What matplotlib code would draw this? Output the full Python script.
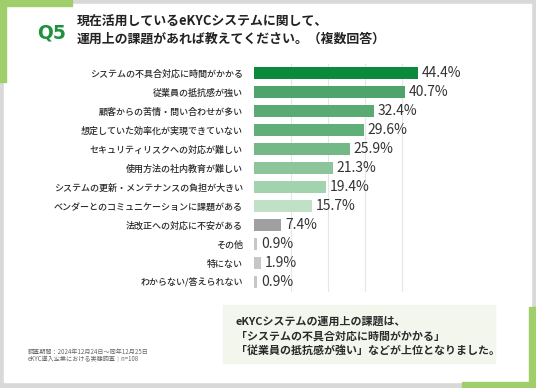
import matplotlib.pyplot as plt
from matplotlib.patches import Rectangle

plt.rcParams['font.family'] = ['Noto Sans CJK JP', 'DejaVu Sans']

# Data
categories = [
    "システムの不具合対応に時間がかかる",
    "従業員の抵抗感が強い",
    "顧客からの苦情・問い合わせが多い",
    "想定していた効率化が実現できていない",
    "セキュリティリスクへの対応が難しい",
    "使用方法の社内教育が難しい",
    "システムの更新・メンテナンスの負担が大きい",
    "ベンダーとのコミュニケーションに課題がある",
    "法改正への対応に不安がある",
    "その他",
    "特にない",
    "わからない/答えられない",
]
values = [44.4, 40.7, 32.4, 29.6, 25.9, 21.3, 19.4, 15.7, 7.4, 0.9, 1.9, 0.9]
bar_colors = ["#0b8a3c", "#4ea46a", "#5aab73", "#60ae78", "#74b887", "#8cc59a",
              "#a3d2ae", "#c0e1c6", "#a0a0a0", "#c6c6c6", "#c6c6c6", "#c6c6c6"]
grid_ticks = [10, 20, 30, 40, 50]

title_lines = ["現在活用しているeKYCシステムに関して、",
               "運用上の課題があれば教えてください。（複数回答）"]
summary_lines = ["eKYCシステムの運用上の課題は、",
                 "「システムの不具合対応に時間がかかる」",
                 "「従業員の抵抗感が強い」などが上位となりました。"]
note_lines = ["調査期間：2024年12月24日〜同年12月25日",
              "eKYC導入企業における実態調査｜n=108"]

W, H = 536, 388
fig = plt.figure(figsize=(W / 100, H / 100), dpi=100)
fig.patch.set_facecolor("#d9d9d9")

# background card and decoration (pixel coords)
bg = fig.add_axes([0, 0, 1, 1])
bg.set_xlim(0, W)
bg.set_ylim(H, 0)
bg.axis("off")
green = "#9fce6a"
bg.add_patch(Rectangle((4, 4), 527, 378, color="white"))
bg.add_patch(Rectangle((0, 0), 72, 6, color=green))
bg.add_patch(Rectangle((0, 0), 6, 82, color=green))
bg.add_patch(Rectangle((529, 307), 7, 81, color=green))
bg.add_patch(Rectangle((462, 382), 74, 6, color=green))
bg.add_patch(Rectangle((223, 305), 272, 58, color="#f3f6ec"))

bg.text(37, 33, "Q5", color="#1c9140", fontsize=13.5, fontweight="bold",
        va="center", ha="left", family=["DejaVu Sans"])
for i, line in enumerate(title_lines):
    bg.text(77, 22 + i * 17, line, fontsize=9.3, fontweight="bold",
            color="#222222", va="center", ha="left")
for i, line in enumerate(summary_lines):
    bg.text(236, 322 + i * 14, line, fontsize=7.9, fontweight="bold",
            color="#2a2a2a", va="center", ha="left")
for i, line in enumerate(note_lines):
    bg.text(28, 352 + i * 7.5, line, fontsize=4.4, color="#666666",
            va="center", ha="left")

# bar chart
ax = fig.add_axes([254 / W, 1 - 291.5 / H, 185 / W, 228 / H])
ax.set_facecolor("none")
y = list(range(len(categories)))
ax.barh(y, values, height=0.68, color=bar_colors, zorder=2)
for g in grid_ticks:
    ax.axvline(g, color="#e6e6e6", linewidth=0.8, zorder=1)
for yi, v in zip(y, values):
    ax.text(v + 1.0, yi, f"{v}%", va="center", ha="left", fontsize=10,
            color="#333333", clip_on=False)
ax.set_xlim(0, 50)
ax.set_ylim(len(categories) - 0.5, -0.5)
ax.set_yticks(y)
ax.set_yticklabels(categories, fontsize=6.5, color="#2a2a2a", fontweight="medium")
ax.tick_params(axis="y", length=0, pad=8)
ax.set_xticks([])
for s in ax.spines.values():
    s.set_visible(False)

fig.savefig("out.png", dpi=100)
